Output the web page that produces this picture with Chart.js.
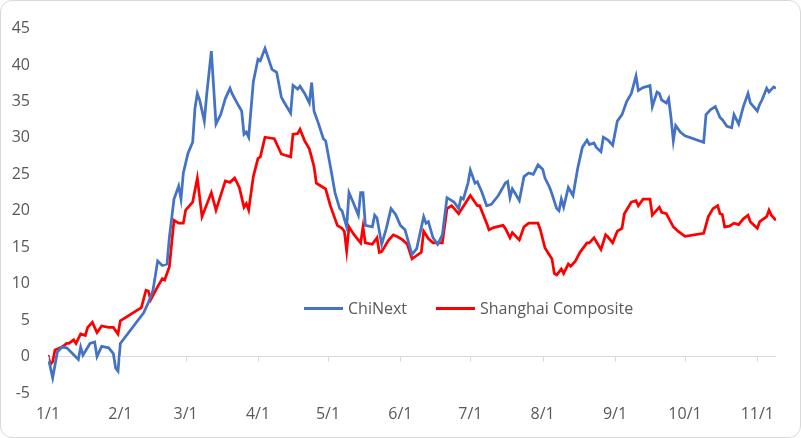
<!DOCTYPE html>
<html>
<head>
<meta charset="utf-8">
<script src="https://cdn.jsdelivr.net/npm/chart.js@4"></script>
<style>
  html,body{margin:0;padding:0;background:#fff;}
  #wrap{position:relative;width:801px;height:438px;box-sizing:border-box;border:1px solid #d9d9d9;border-radius:12px;overflow:hidden;}
  #myChart{position:absolute;left:0;top:0;}
  #legend{position:absolute;top:296px;left:0;height:22px;font-family:"Open Sans",sans-serif;font-size:16px;color:#595959;}
  .lg-item{position:absolute;top:0;height:22px;line-height:22px;white-space:nowrap;}
  .lg-line{position:absolute;top:10px;width:39px;height:3px;}
  .lg-text{position:absolute;left:44px;top:0;}
</style>
</head>
<body>
<div id="wrap">
  <canvas id="myChart" width="801" height="438"></canvas>
  <div id="legend"></div>
</div>
<script>
// x axis = days since 1/1
const monthDays = [0, 31, 59, 90, 120, 151, 181, 212, 243, 273, 304]
const monthLabels = ['1/1','2/1','3/1','4/1','5/1','6/1','7/1','8/1','9/1','10/1','11/1']

// ChiNext
const chinextDays = [0,2,4,6,8,9,13,14,15,18,20,21,23,26,28,29,30,31,41,43,45,47,49,51,52,54,56,57,58,60,62,63,64,65,67,68,70,72,74,76,78,79,81,83,84,85,86,88,90,91,93,96,98,100,101,104,105,107,108,110,112,113,114,116,118,119,121,123,125,126,128,129,131,133,134,135,136,139,140,141,143,145,147,149,151,153,156,158,161,162,163,165,167,169,171,172,174,176,177,178,180,181,183,184,186,188,190,193,196,197,198,199,200,202,204,206,208,210,212,213,215,216,218,219,220,221,223,225,227,229,231,232,234,235,237,238,240,242,244,246,248,250,252,253,255,258,259,261,262,263,265,266,267,268,269,271,273,281,282,284,286,288,289,291,293,294,296,298,300,301,304,305,306,308,309,311,312]
const chinextValues = [0,-2.9,0.6,1.3,1.2,0.9,-0.4,1.3,0.2,1.8,2.0,0.0,1.4,1.2,0.4,-1.6,-2.0,1.8,6.0,7.4,9.1,13.1,12.5,12.7,16.3,21.6,23.4,21.6,25.2,27.9,29.4,34.1,36.1,35.2,32.3,35.9,41.9,31.9,33.2,35.4,36.8,36.0,34.8,33.7,30.5,30.8,30.1,37.7,40.8,40.6,42.3,39.4,39.0,35.6,35.0,33.4,37.2,36.7,37.1,36.1,34.8,37.6,33.7,31.9,29.9,29.6,26.1,22.5,20.3,20.0,17.8,22.5,21.0,19.4,22.5,22.5,18.0,17.8,19.4,19.0,15.4,17.6,20.3,19.5,18.0,17.4,14.0,14.8,19.2,18.3,18.5,16.3,15.4,16.7,21.8,21.6,21.2,20.3,21.8,21.6,23.8,25.6,23.8,24.0,22.5,20.7,20.9,22.1,23.8,24.0,21.8,23.0,22.5,21.4,24.7,25.2,25.0,26.3,25.7,24.5,23.2,22.3,20.3,20.0,21.6,20.5,23.2,22.1,25.8,28.7,29.7,29.1,29.3,28.7,28.1,30.1,29.7,29.0,32.3,33.2,35.0,36.1,38.5,36.5,36.9,37.2,34.3,36.3,36.1,35.2,34.8,35.4,32.8,29.6,31.7,30.8,30.3,29.4,33.2,33.9,34.3,32.8,32.5,31.6,31.4,33.2,31.9,34.3,36.1,34.8,33.7,34.6,35.2,36.8,36.3,37.0,36.8]

// Shanghai Composite
const shanghaiDays = [0,1,2,3,6,8,9,11,12,14,16,17,19,21,23,26,28,30,31,40,42,43,44,47,49,50,52,54,56,58,59,62,64,66,70,72,76,78,80,82,84,85,86,88,90,91,93,97,100,104,105,107,108,110,112,114,115,118,119,121,124,126,127,128,129,131,134,135,136,139,141,142,143,146,148,150,152,154,156,160,161,163,165,169,171,173,176,181,184,185,188,189,191,195,196,198,199,202,204,206,210,211,213,216,217,218,220,221,223,224,226,228,231,232,234,237,239,240,242,244,246,247,250,252,253,255,258,259,262,263,265,268,270,273,281,283,285,287,288,289,290,292,294,296,298,300,301,304,305,308,309,310,312]
const shanghaiValues = [0.2,-1.1,-0.7,0.9,1.3,1.8,1.8,2.3,1.8,3.1,2.9,4.0,4.7,3.3,4.2,4.0,4.0,3.1,4.9,6.7,9.1,9.0,7.8,9.6,10.7,10.5,12.3,18.7,18.3,18.3,20.1,21.2,24.5,19.2,22.5,20.1,24.1,23.9,24.5,23.2,20.5,21.0,20.1,24.7,27.2,27.4,30.1,29.9,27.8,27.4,30.5,30.6,31.2,29.6,28.5,26.1,23.8,23.2,23.0,20.7,18.0,17.6,17.2,14.5,17.8,16.8,15.6,17.8,15.6,15.4,16.3,14.3,14.4,16.0,16.7,16.4,16.0,15.4,13.4,14.3,17.2,16.2,15.6,15.6,20.3,20.7,19.6,22.1,20.7,20.7,18.3,17.4,17.7,18.0,17.6,16.3,17.0,16.0,17.8,18.3,18.3,17.4,14.9,13.4,11.4,11.2,12.0,11.4,12.7,12.4,13.1,14.3,15.6,15.6,16.3,14.7,16.7,16.4,15.6,17.2,17.6,19.6,21.2,21.4,20.7,21.6,21.6,19.4,20.5,19.8,19.6,17.8,17.2,16.5,16.9,19.2,20.3,20.7,19.6,19.5,17.8,17.9,18.3,18.1,18.9,19.4,18.5,17.6,18.5,19.2,20.1,19.4,18.7]

const yTicks = { min: -5, max: 45, step: 5 }

const blue = '#4472C4'
const red = '#FF0000'
const axisGray = '#d9d9d9'
const textGray = '#595959'

const chinextPoints = chinextDays.map((d, i) => ({ x: d, y: chinextValues[i] }))
const shanghaiPoints = shanghaiDays.map((d, i) => ({ x: d, y: shanghaiValues[i] }))

// little tick marks under the zero line
const zeroTicks = {
  id: 'zeroTicks',
  afterDraw(chart) {
    const ctx = chart.ctx
    const xs = chart.scales.x
    const y0 = chart.scales.y.getPixelForValue(0)
    ctx.save()
    ctx.strokeStyle = axisGray
    ctx.lineWidth = 1
    xs.ticks.forEach((t) => {
      const px = Math.round(xs.getPixelForValue(t.value)) + 0.5
      ctx.beginPath()
      ctx.moveTo(px, y0)
      ctx.lineTo(px, y0 + 5)
      ctx.stroke()
    })
    ctx.restore()
  }
}

const myChart = new Chart(document.getElementById('myChart'), {
  type: 'line',
  data: {
    datasets: [{
      label: 'ChiNext',
      data: chinextPoints,
      borderColor: blue,
      backgroundColor: blue,
      borderWidth: 2.75,
      pointRadius: 0,
      tension: 0
    }, {
      label: 'Shanghai Composite',
      data: shanghaiPoints,
      borderColor: red,
      backgroundColor: red,
      borderWidth: 2.75,
      pointRadius: 0,
      tension: 0
    }]
  },
  options: {
    responsive: false,
    animation: false,
    layout: { padding: { top: 18, right: 26, left: 0, bottom: 0 } },
    plugins: {
      legend: { display: false },
      tooltip: { enabled: false }
    },
    scales: {
      x: {
        type: 'linear',
        min: 0,
        max: 312,
        grid: { display: false, drawTicks: false },
        border: { display: false },
        afterBuildTicks: (scale) => {
          scale.ticks = monthDays.map((v) => ({ value: v }))
        },
        afterFit: (scale) => { scale.height = 46 },
        ticks: {
          autoSkip: false,
          maxRotation: 0,
          padding: 12,
          color: textGray,
          font: { family: 'Open Sans', size: 16 },
          callback: (value, index) => monthLabels[index]
        }
      },
      y: {
        min: yTicks.min,
        max: yTicks.max,
        afterFit: (scale) => { scale.width = 47 },
        grid: {
          drawTicks: false,
          color: (c) => (c.tick && c.tick.value === 0 ? axisGray : 'rgba(0,0,0,0)'),
          lineWidth: 1
        },
        border: { display: false },
        ticks: {
          stepSize: yTicks.step,
          padding: 18,
          color: textGray,
          font: { family: 'Open Sans', size: 16 }
        }
      }
    }
  },
  plugins: [zeroTicks]
})

// html legend inside the plot
const legendBox = document.getElementById('legend')
const legendLeft = [303, 435]
myChart.data.datasets.forEach((ds, i) => {
  const item = document.createElement('div')
  item.className = 'lg-item'
  item.style.left = legendLeft[i] + 'px'
  item.innerHTML = '<span class="lg-line" style="background:' + ds.borderColor + '"></span><span class="lg-text">' + ds.label + '</span>'
  legendBox.appendChild(item)
})
</script>
</body>
</html>
